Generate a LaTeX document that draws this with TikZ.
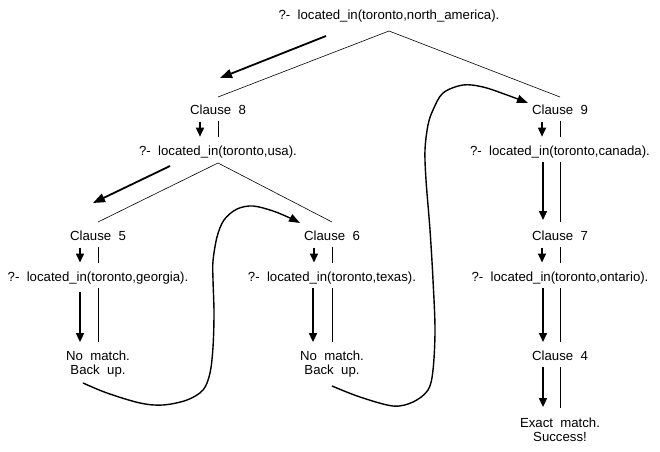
\documentclass[tikz,border=0pt]{standalone}
\usepackage{fontspec}
\setmainfont{Liberation Sans}
\usetikzlibrary{arrows.meta}
\begin{document}
\begin{tikzpicture}[x=1pt,y=1pt,
  lbl/.style={inner sep=0pt, font=\fontsize{13.2}{13.5}\selectfont, anchor=base},
  lbltwo/.style={inner sep=0pt, font=\fontsize{13.2}{13.5}\selectfont, anchor=north, align=center},
  treeline/.style={line width=0.6pt},
  thinline/.style={line width=0.7pt},
  darr/.style={line width=1.6pt, -{Triangle[length=9pt,width=8pt]}},
  diagarr/.style={line width=1.8pt, -{Triangle[length=12pt,width=9pt]}},
  carr/.style={line width=1.4pt, -{Triangle[length=11pt,width=8pt]}}
]
\useasboundingbox (0,0) rectangle (660,451);

% nodes
\node[lbl] (q0) at (389,431.3) {?-\hspace{0.556em}located\_in(toronto,north\_america).};
\node[lbl] (c8) at (218,336.3) {Clause\hspace{0.556em}8};
\node[lbl] (c9) at (560,336.3) {Clause\hspace{0.556em}9};
\node[lbl] (q8) at (218,295.3) {?-\hspace{0.556em}located\_in(toronto,usa).};
\node[lbl] (q9) at (560,295.3) {?-\hspace{0.556em}located\_in(toronto,canada).};
\node[lbl] (c5) at (98,210.3) {Clause\hspace{0.556em}5};
\node[lbl] (c6) at (332,210.3) {Clause\hspace{0.556em}6};
\node[lbl] (c7) at (560,210.3) {Clause\hspace{0.556em}7};
\node[lbl] (q5) at (98,169.5) {?-\hspace{0.556em}located\_in(toronto,georgia).};
\node[lbl] (q6) at (332,169.5) {?-\hspace{0.556em}located\_in(toronto,texas).};
\node[lbl] (q7) at (560,169.5) {?-\hspace{0.556em}located\_in(toronto,ontario).};
\node[lbl] (c4) at (560,90.3) {Clause\hspace{0.556em}4};
\node[lbltwo] (nm5) at (98,99.9) {No\hspace{0.556em}match.\\Back\hspace{0.556em}up.};
\node[lbltwo] (nm6) at (332,99.9) {No\hspace{0.556em}match.\\Back\hspace{0.556em}up.};
\node[lbltwo] (ex) at (560,32.9) {Exact\hspace{0.556em}match.\\Success!};

% tree lines
\draw[treeline] ([shift={(-171,17.7)}]q0.base |- c8.base) -- ([shift={(0,-11.3)}]q0.base) -- ([shift={(171,17.7)}]q0.base |- c9.base);
\draw[treeline] ([shift={(0,18.7)}]c5.base) -- ([shift={(0,-7.3)}]q8.base) -- ([shift={(0,18.7)}]c6.base);

% big diagonal arrows
\draw[diagarr] ([shift={(-63,-16.3)}]q0.base) -- ([shift={(2,36.7)}]c8.base);
\draw[diagarr] ([shift={(-48,-10.3)}]q8.base) -- ([shift={(-5,37.7)}]c5.base);

% short steps clause -> query
\foreach \c/\q in {c8/q8, c9/q9, c5/q5, c6/q6, c7/q7}{
  \draw[darr] ([shift={(-18,-7)}]\c.base) -- ([shift={(-18,19)}]\q.base);
  \draw[thinline] ([shift={(0,-6)}]\c.base) -- ([shift={(0,18.5)}]\q.base);
}

% long steps
\draw[darr] ([shift={(-17,-6)}]q9.base) -- ([shift={(-17,20.7)}]c7.base);
\draw[thinline] ([shift={(0,-6)}]q9.base) -- ([shift={(0,18.7)}]c7.base);
\draw[darr] ([shift={(-18,-10)}]q5.base) -- ([shift={(-18,9)}]nm5.north);
\draw[thinline] ([shift={(0,-6.5)}]q5.base) -- ([shift={(0,9)}]nm5.north);
\draw[darr] ([shift={(-19,-6.5)}]q6.base) -- ([shift={(-19,9)}]nm6.north);
\draw[thinline] ([shift={(0,-6.5)}]q6.base) -- ([shift={(0,9)}]nm6.north);
\draw[darr] ([shift={(-17,-6.5)}]q7.base) -- ([shift={(-17,18.7)}]c4.base);
\draw[thinline] ([shift={(0,-6.5)}]q7.base) -- ([shift={(0,18.7)}]c4.base);
\draw[darr] ([shift={(-17,-6.3)}]c4.base) -- ([shift={(-17,11)}]ex.north);
\draw[thinline] ([shift={(0,-6.3)}]c4.base) -- ([shift={(0,10)}]ex.north);

% backtracking curves
\coordinate (b5) at ([shift={(-15,-31.9)}]nm5.north);
\coordinate (t6) at ([shift={(-32,17.7)}]c6.base);
\coordinate (b6) at ([shift={(0,-34.9)}]nm6.north);
\coordinate (t9) at ([shift={(-32,11.7)}]c9.base);
\draw[carr] plot[smooth, tension=0.55] coordinates {(b5) (107,58) (140,48) (163,46) (187,51) (203,61) (210,78) (213,104) (214,138) (213,171) (213,190) (217,214) (224,231) (237,242) (253,245) (273,240) (290,233) (t6)};
\draw[carr] plot[smooth, tension=0.55] coordinates {(b6) (360,54) (393,45) (413,49) (428,61) (433,81) (435,121) (433,171) (430,221) (426,271) (425,301) (428,326) (433,341) (443,358) (463,366) (483,364) (507,356) (t9)};
\end{tikzpicture}
\end{document}
